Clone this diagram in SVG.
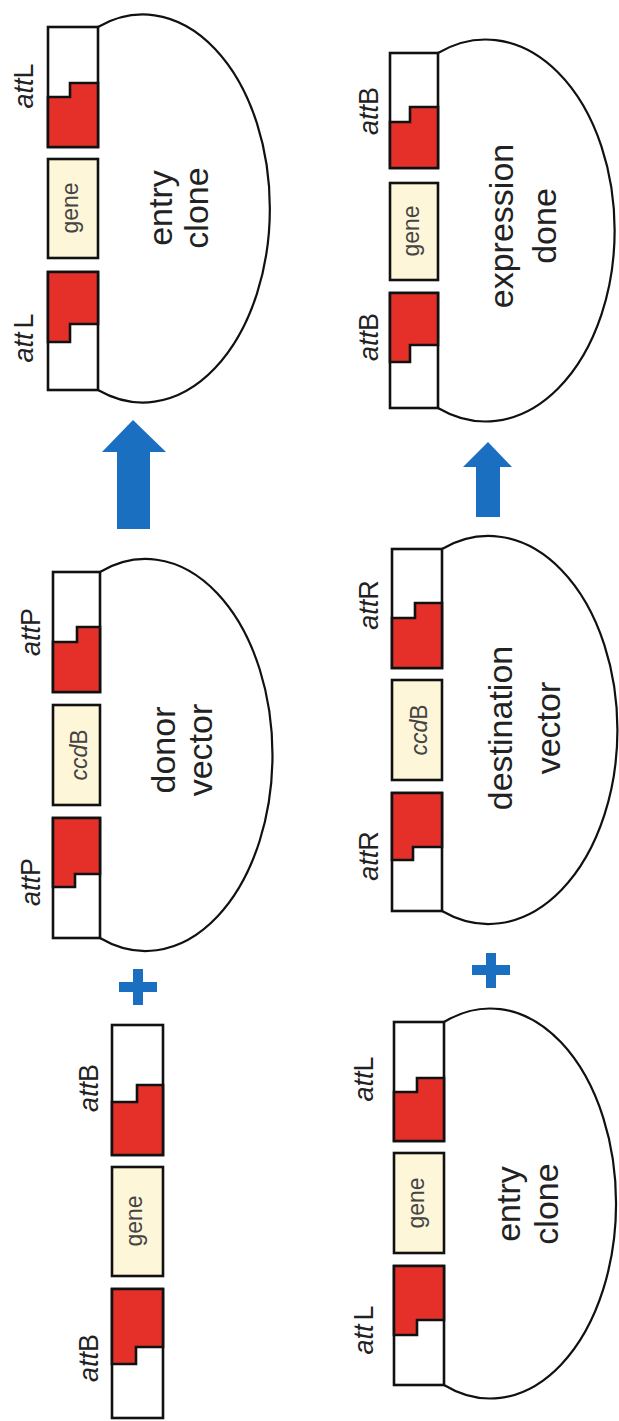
<svg xmlns="http://www.w3.org/2000/svg" width="619" height="1421" viewBox="0 0 619 1421">
<style>
.bg{fill:#ffffff}
.box{fill:#ffffff;stroke:#111;stroke-width:2.6}
.red{fill:#e5302a;stroke:#111;stroke-width:2.6;stroke-linejoin:miter}
.ins{fill:#fdf6d8;stroke:#111;stroke-width:2.6}
.oval{fill:none;stroke:#111;stroke-width:2.2}
.lbl{font-family:"Liberation Sans",Arial,sans-serif;font-size:27px;fill:#222;text-anchor:middle}
.it{font-style:italic}
.big{font-family:"Liberation Sans",Arial,sans-serif;font-size:34px;fill:#222;text-anchor:middle}
.small{font-family:"Liberation Sans",Arial,sans-serif;font-size:23px;fill:#444;text-anchor:middle}
.blue{fill:#1b6fc0}
</style>
<rect class="bg" x="0" y="0" width="619" height="1421"/>

<!-- Column 1, bottom: linear attB-gene-attB fragment -->
<g id="attB-gene-fragment">
  <rect class="box" x="112" y="1025" width="51" height="130"/>
  <polygon class="red" points="112,1102 137,1102 137,1085 163,1085 163,1155 112,1155"/>
  <rect class="ins" x="112" y="1167" width="51" height="109"/>
  <text class="small" transform="translate(0,1221) rotate(-90)" x="0" y="142">gene</text>
  <rect class="box" x="112" y="1289" width="51" height="129"/>
  <polygon class="red" points="112,1289 163,1289 163,1347 136,1347 136,1364 112,1364"/>
  <text class="lbl" transform="translate(98,1088) rotate(-90)"><tspan class="it">att</tspan>B</text>
  <text class="lbl" transform="translate(98,1358) rotate(-90)"><tspan class="it">att</tspan>B</text>
</g>

<!-- Column 1, middle: donor vector -->
<g id="donor-vector">
  <path class="oval" d="M100,572 A127,196 0 1,1 100,938"/>
  <rect class="box" x="53" y="572" width="47" height="120"/>
  <polygon class="red" points="53,642 77,642 77,627 100,627 100,692 53,692"/>
  <rect class="ins" x="53" y="705" width="47" height="100"/>
  <text class="small" transform="translate(0,755) rotate(-90)" x="0" y="87"><tspan class="it">ccd</tspan>B</text>
  <rect class="box" x="53" y="818" width="47" height="120"/>
  <polygon class="red" points="53,818 100,818 100,874 75,874 75,887 53,887"/>
  <text class="lbl" transform="translate(40,632) rotate(-90)"><tspan class="it">att</tspan>P</text>
  <text class="lbl" transform="translate(40,882) rotate(-90)"><tspan class="it">att</tspan>P</text>
  <g transform="translate(0,750) rotate(-90)">
    <text class="big" x="0" y="175">donor</text>
    <text class="big" x="0" y="212">vector</text>
  </g>
</g>

<!-- Column 1, top: entry clone -->
<g id="entry-clone-1">
  <path class="oval" d="M98,27 A127,194 0 1,1 98,390"/>
  <rect class="box" x="48" y="27" width="50" height="120"/>
  <polygon class="red" points="48,97 70,97 70,83 98,83 98,147 48,147"/>
  <rect class="ins" x="48" y="159" width="50" height="99"/>
  <text class="small" transform="translate(0,208) rotate(-90)" x="0" y="78">gene</text>
  <rect class="box" x="48" y="272" width="50" height="118"/>
  <polygon class="red" points="48,272 98,272 98,324 70,324 70,342 48,342"/>
  <text class="lbl" transform="translate(33,86) rotate(-90)"><tspan class="it">att</tspan>L</text>
  <text class="lbl" transform="translate(33,338) rotate(-90)"><tspan class="it">att</tspan><tspan dx="4">L</tspan></text>
  <g transform="translate(0,208) rotate(-90)">
    <text class="big" x="0" y="172">entry</text>
    <text class="big" x="0" y="208">clone</text>
  </g>
</g>

<!-- Column 2, bottom: entry clone -->
<g id="entry-clone-2">
  <path class="oval" d="M444,1022 A126,195 0 1,1 444,1385"/>
  <rect class="box" x="394" y="1022" width="50" height="119"/>
  <polygon class="red" points="394,1092 417,1092 417,1078 444,1078 444,1141 394,1141"/>
  <rect class="ins" x="394" y="1153" width="50" height="100"/>
  <text class="small" transform="translate(0,1203) rotate(-90)" x="0" y="424">gene</text>
  <rect class="box" x="394" y="1266" width="50" height="119"/>
  <polygon class="red" points="394,1266 444,1266 444,1320 417,1320 417,1335 394,1335"/>
  <text class="lbl" transform="translate(373,1079) rotate(-90)"><tspan class="it">att</tspan>L</text>
  <text class="lbl" transform="translate(373,1330) rotate(-90)"><tspan class="it">att</tspan><tspan dx="4">L</tspan></text>
  <g transform="translate(0,1204) rotate(-90)">
    <text class="big" x="0" y="520">entry</text>
    <text class="big" x="0" y="558">clone</text>
  </g>
</g>

<!-- Column 2, middle: destination vector -->
<g id="destination-vector">
  <path class="oval" d="M442,549 A129,194 0 1,1 442,911"/>
  <rect class="box" x="392" y="549" width="50" height="119"/>
  <polygon class="red" points="392,618 415,618 415,603 442,603 442,668 392,668"/>
  <rect class="ins" x="392" y="680" width="50" height="100"/>
  <text class="small" transform="translate(0,730) rotate(-90)" x="0" y="427"><tspan class="it">ccd</tspan>B</text>
  <rect class="box" x="392" y="793" width="50" height="118"/>
  <polygon class="red" points="392,793 442,793 442,847 413,847 413,860 392,860"/>
  <text class="lbl" transform="translate(378,605) rotate(-90)"><tspan class="it">att</tspan>R</text>
  <text class="lbl" transform="translate(378,856) rotate(-90)"><tspan class="it">att</tspan>R</text>
  <g transform="translate(0,728) rotate(-90)">
    <text class="big" x="0" y="512">destination</text>
    <text class="big" x="0" y="560">vector</text>
  </g>
</g>

<!-- Column 2, top: expression clone -->
<g id="expression-clone">
  <path class="oval" d="M438,53 A129,191 0 1,1 438,408"/>
  <rect class="box" x="390" y="53" width="48" height="115"/>
  <polygon class="red" points="390,122 410,122 410,107 438,107 438,168 390,168"/>
  <rect class="ins" x="390" y="183" width="48" height="97"/>
  <text class="small" transform="translate(0,231) rotate(-90)" x="0" y="419">gene</text>
  <rect class="box" x="390" y="293" width="48" height="115"/>
  <polygon class="red" points="390,293 438,293 438,345 410,345 410,362 390,362"/>
  <text class="lbl" transform="translate(378,111) rotate(-90)"><tspan class="it">att</tspan>B</text>
  <text class="lbl" transform="translate(378,337) rotate(-90)"><tspan class="it">att</tspan>B</text>
  <g transform="translate(0,226) rotate(-90)">
    <text class="big" x="0" y="513">expression</text>
    <text class="big" x="0" y="556">done</text>
  </g>
</g>

<!-- Operators and reaction arrows -->
<g id="connectors">
  <polygon id="arrow-1" class="blue" points="133,420 166,452 150,452 150,529 117,529 117,452 102,452"/>
  <polygon id="arrow-2" class="blue" points="488,442 512,467 500,467 500,517 476,517 476,467 463,467"/>
  <path id="plus-1" class="blue" d="M133,969 h10 v13 h14 v10 h-14 v13 h-10 v-13 h-14 v-10 h14 z"/>
  <path id="plus-2" class="blue" d="M486,953 h10 v12 h14 v10 h-14 v13 h-10 v-13 h-14 v-10 h14 z"/>
</g>
</svg>
